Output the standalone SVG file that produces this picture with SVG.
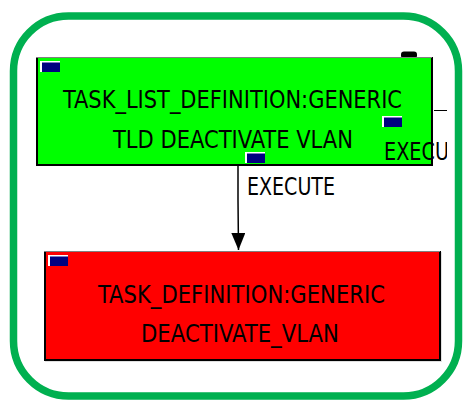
<svg xmlns="http://www.w3.org/2000/svg" width="464" height="403" viewBox="0 0 464 403">
<style>
.lbl{font-family:"DejaVu Sans Condensed","DejaVu Sans",sans-serif;font-size:24px;fill:#000}
.ico-w{fill:#fff}
.ico-b{fill:#000080}
.edge{stroke:#000;stroke-width:2;fill:none}
.top{stroke:#808080;stroke-width:1;fill:none}
</style>
<defs>
<marker id="arr" markerWidth="18" markerHeight="14" refX="17" refY="7" orient="auto" markerUnits="userSpaceOnUse" viewBox="0 0 18 14">
<path d="M0,0 L17,7 L0,14 Z" fill="#000"/>
</marker>
<clipPath id="clipR"><rect x="0" y="0" width="447" height="403"/></clipPath>
</defs>
<rect x="13.5" y="16" width="445" height="380" rx="55" ry="55" fill="#fff" stroke="#00b050" stroke-width="7.5"/>
<g id="node-tld">
<rect x="401" y="51.5" width="16" height="7" rx="3" fill="#000"/>
<rect x="36" y="57" width="396" height="108" fill="#00ff00"/>
<path class="edge" d="M37,57 L37,165 L432,165 L432,57"/>
<path class="top" d="M36,57.5 L432,57.5"/>
<rect class="ico-w" x="40" y="61" width="20" height="11"/><rect class="ico-b" x="42" y="62.5" width="18" height="9.5"/>
<rect class="ico-w" x="382" y="116" width="20" height="11"/><rect class="ico-b" x="384" y="117.5" width="18" height="9.5"/>
<rect class="ico-w" x="245" y="152" width="20" height="11"/><rect class="ico-b" x="247" y="153.5" width="18" height="9.5"/>
<text class="lbl" x="63" y="108" textLength="339" lengthAdjust="spacingAndGlyphs">TASK_LIST_DEFINITION:GENERIC</text>
<text class="lbl" x="113" y="148" textLength="240" lengthAdjust="spacingAndGlyphs">TLD DEACTIVATE VLAN</text>
</g>
<g id="node-td">
<rect x="45" y="252" width="397" height="110" fill="#e0e0e0"/>
<rect x="44" y="251" width="396" height="109" fill="#ff0000"/>
<path class="edge" d="M45,251 L45,360 L440,360 L440,251"/>
<path class="top" d="M44,251.5 L440,251.5"/>
<rect class="ico-w" x="48" y="255" width="20" height="11"/><rect class="ico-b" x="50" y="256.5" width="18" height="9.5"/>
<text class="lbl" x="98" y="303" textLength="287" lengthAdjust="spacingAndGlyphs">TASK_DEFINITION:GENERIC</text>
<text class="lbl" x="141" y="342" textLength="198" lengthAdjust="spacingAndGlyphs">DEACTIVATE_VLAN</text>
</g>
<g id="connectors">
<path d="M238,166 L238,200 L238.5,250" stroke="#000" stroke-width="1.5" fill="none" marker-end="url(#arr)"/>
<text class="lbl" x="247" y="195" textLength="88" lengthAdjust="spacingAndGlyphs">EXECUTE</text>
<line x1="434" y1="110.5" x2="447" y2="110.5" stroke="#000" stroke-width="1"/>
<g clip-path="url(#clipR)"><text class="lbl" x="384" y="160" textLength="65" lengthAdjust="spacingAndGlyphs">EXECU</text></g>
</g>
</svg>
